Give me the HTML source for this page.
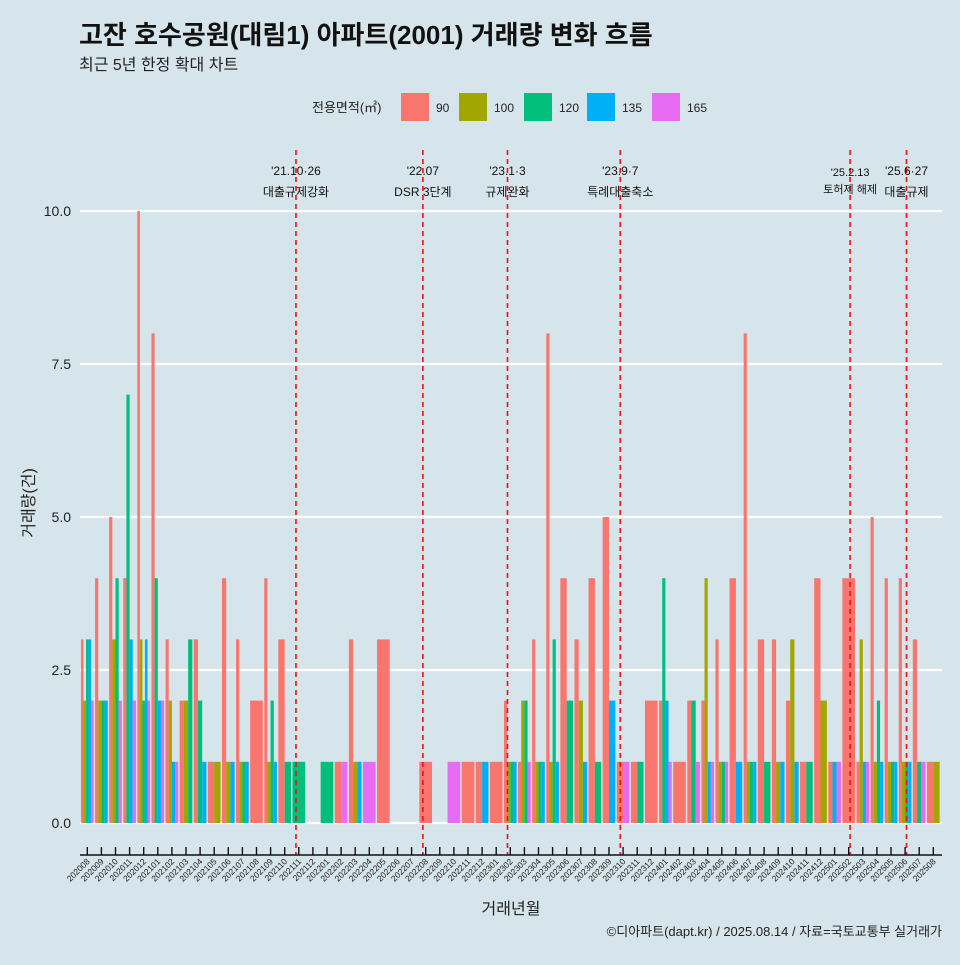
<!DOCTYPE html>
<html><head><meta charset="utf-8"><style>
body{margin:0;background:#d6e4eb;}
svg text{font-family:"Liberation Sans","Noto Sans CJK KR",sans-serif;}
</style></head><body>
<svg id="chart" width="960" height="960" xmlns="http://www.w3.org/2000/svg">
<rect width="960" height="960" fill="#d6e4eb"/>
<text x="79" y="44" font-size="26" font-weight="bold" fill="#111">고잔 호수공원(대림1) 아파트(2001) 거래량 변화 흐름</text>
<text x="79" y="70" font-size="16" fill="#222">최근 5년 한정 확대 차트</text>
<g id="legend"></g>
<g id="grid"></g>
<g id="bars"></g>
<g id="events"></g>
<g id="axes"></g>
<text x="511" y="914" font-size="16" text-anchor="middle" fill="#222">거래년월</text>
<text transform="translate(34,503) rotate(-90)" font-size="16" text-anchor="middle" fill="#222">거래량(건)</text>
<text x="942" y="936" font-size="13" text-anchor="end" fill="#222">©디아파트(dapt.kr) / 2025.08.14 / 자료=국토교통부 실거래가</text>
</svg>
<script>
const sizes = ["90","100","120","135","165"];
const colors = ["#F8766D","#A3A500","#00BF7D","#00B0F6","#E76BF3"];
const startYear = 2020, startMonth = 8, nMonths = 61;
// counts per month (0 = no trades) for each size
const s90  = [3,4,5,4,10,8,3,2,3,1,4,3,2,4,3,0,0,0,1,3,0,3,0,0,1,0,0,1,1,1,2,1,3,8,4,3,4,5,1,1,2,2,1,2,2,3,4,8,3,3,2,1,4,1,4,1,5,4,4,3,1];
const s100 = [2,2,3,0,3,0,2,2,0,1,1,1,0,1,0,0,0,0,0,1,0,0,0,0,0,0,0,0,0,0,1,2,1,1,0,2,0,0,0,0,0,0,0,0,4,1,0,1,0,1,3,0,2,0,0,3,1,1,1,0,1];
const s120 = [3,2,4,7,2,4,0,3,2,0,0,1,0,2,1,1,0,1,0,0,0,0,0,0,0,0,0,0,0,0,1,2,1,3,2,0,1,0,0,1,0,4,0,2,0,1,0,1,1,0,0,1,0,0,0,0,2,1,1,1,0];
const s135 = [3,2,0,3,3,2,1,0,1,0,1,1,0,1,0,0,0,0,0,1,0,0,0,0,0,0,0,0,1,0,1,0,1,1,0,1,0,2,0,0,0,2,0,0,1,0,1,1,0,1,1,0,0,1,0,1,1,1,1,0,0];
const s165 = [2,0,2,2,2,2,1,0,0,0,0,0,0,0,0,0,0,0,1,0,1,0,0,0,0,0,1,0,0,0,0,1,0,0,0,0,0,0,1,0,0,1,0,1,1,1,0,0,0,0,0,0,0,1,0,1,0,0,0,1,0];
const series = [s90,s100,s120,s135,s165];
const yTicks = [0,2.5,5,7.5,10];
const yTickLabels = ["0.0","2.5","5.0","7.5","10.0"];
const eventIdx = [14.8,23.8,29.8,37.8,54.1,58.1];
const eventDates = ["'21.10·26","'22.07","'23.1·3","'23.9·7","'25.2.13","'25.6·27"];
const eventNames = ["대출규제강화","DSR 3단계","규제완화","특례대출축소","토허제 해제","대출규제"];

const NS="http://www.w3.org/2000/svg";
function el(tag,attrs,parent,txt){const e=document.createElementNS(NS,tag);for(const k in attrs)e.setAttribute(k,attrs[k]);if(txt!==undefined)e.textContent=txt;parent.appendChild(e);return e;}
const x0=87.3, step=14.1;
function xs(i){return x0+step*i;}
function ys(v){return 823-61.2*v;}

const grid=document.getElementById('grid');
yTicks.forEach((t,k)=>{
  const l=el('line',{x1:80,x2:942,y1:ys(t),y2:ys(t),stroke:'#fff','stroke-width':2.2},grid);
  
  
  const tx=el('text',{x:71,y:ys(t)+5,'font-size':14,'text-anchor':'end',fill:'#222'},grid,yTickLabels[k]);
  
  
});

const bars=document.getElementById('bars');
const groupW=step*0.9;
for(let i=0;i<nMonths;i++){
  const present=[];
  series.forEach((s,j)=>{if(s[i]>0)present.push(j);});
  const n=present.length; if(!n)continue;
  const w=groupW/n;
  present.forEach((j,k)=>{
    const v=series[j][i];
    const r=el('rect',{x:xs(i)-groupW/2+k*w,y:ys(v),width:w,height:ys(0)-ys(v),fill:colors[j]},bars);
    
    
  });
}

const ev=document.getElementById('events');
eventIdx.forEach((m,k)=>{
  const x=xs(m);
  const l=el('line',{x1:x,x2:x,y1:150,y2:855,stroke:'#ee1111','stroke-width':1.6,'stroke-dasharray':'5,4'},ev);
  
  
  const small = k===4;
  const t1=el('text',{x:x,y:small?176:175,'font-size':small?11:12,'text-anchor':'middle',fill:'#111'},ev,eventDates[k]);
  
  
  const t2=el('text',{x:x,y:small?193:196,'font-size':small?11:12,'text-anchor':'middle',fill:'#111'},ev,eventNames[k]);
  
  
});

const ax=document.getElementById('axes');
const al=el('line',{x1:80,x2:942,y1:855,y2:855,stroke:'#111','stroke-width':1.6},ax);


for(let i=0;i<nMonths;i++){
  const x=xs(i);
  const tk=el('line',{x1:x,x2:x,y1:847,y2:855,stroke:'#111','stroke-width':1.4},ax);
  
  
  const mm=startMonth-1+i, yr=startYear+Math.floor(mm/12), mo=mm%12+1;
  const lab=''+yr+(mo<10?'0':'')+mo;
  const t=el('text',{x:x+3,y:862,'font-size':8.5,'text-anchor':'end',fill:'#222',transform:`rotate(-45 ${x+3} 862)`},ax,lab);
  
  
}

const lg=document.getElementById('legend');
const lt=el('text',{x:312,y:112,'font-size':13,fill:'#222'},lg,'전용면적(㎡)');


const keyX=[401,459,524,587,652];
sizes.forEach((s,j)=>{
  const r=el('rect',{x:keyX[j],y:93,width:28,height:28,fill:colors[j]},lg);
  
  
  const t=el('text',{x:keyX[j]+35,y:112,'font-size':12,fill:'#222'},lg,s);
  
  
});
</script>
</body></html>
